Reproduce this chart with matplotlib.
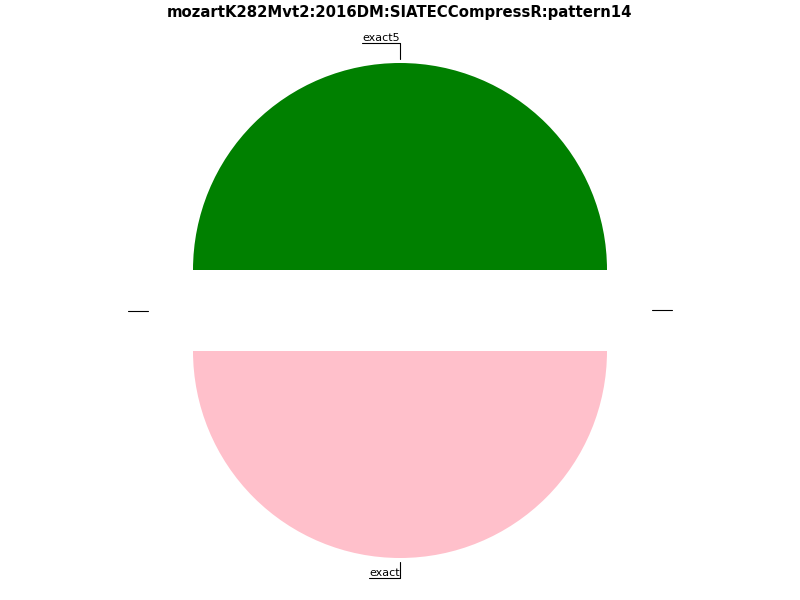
import numpy as np
import matplotlib
matplotlib.use("Agg")
import matplotlib.pyplot as plt

title = "mozartK282Mvt2:2016DM:SIATECCompressR:pattern14"
labels = ["exact5", "", "exact", ""]
values = [1, 0, 1, 0]
colors = ["green", "green", "pink", "pink"]

R_PX = 207.0
EXPLODE = 40.5 / R_PX
D_H = 1.315
D_V = 1.29

fig = plt.figure(figsize=(10, 7.5), dpi=80)
ax = fig.add_axes([0, 0, 1, 1])
wedges, _ = ax.pie(values, colors=colors, startangle=0, counterclock=True,
                   explode=[EXPLODE] * len(values), radius=1)
ax.set_aspect("equal")
ax.set_xlim(-400 / R_PX, 400 / R_PX)
ax.set_ylim(-289.5 / R_PX, 310.5 / R_PX)
ax.axis("off")

for w, lab in zip(wedges, labels):
    ang = (w.theta2 + w.theta1) / 2.0
    x = np.cos(np.deg2rad(ang))
    y = np.sin(np.deg2rad(ang))
    if abs(x) < 1e-9:
        x = 0.0
    if abs(y) < 1e-9:
        y = 0.0
    r = 1 + EXPLODE
    xy = (r * x, r * y)
    xytext = (D_H * x, D_V * y)
    if y == 0.0:
        cs = "arc3"
    else:
        cs = "angle,angleA=0,angleB=90"
    ax.annotate(lab, xy=xy, xytext=xytext, ha="right", va="bottom", fontsize=10,
                arrowprops=dict(arrowstyle="-", color="black", lw=1,
                                connectionstyle=cs, relpos=(0, 0),
                                patchA=None, shrinkA=0, shrinkB=4))

fig.text(0.5, 1 - 13 / 600, title, ha="center", va="center",
         fontsize=13.4, fontweight="bold")

fig.savefig("out.png", dpi=80)
